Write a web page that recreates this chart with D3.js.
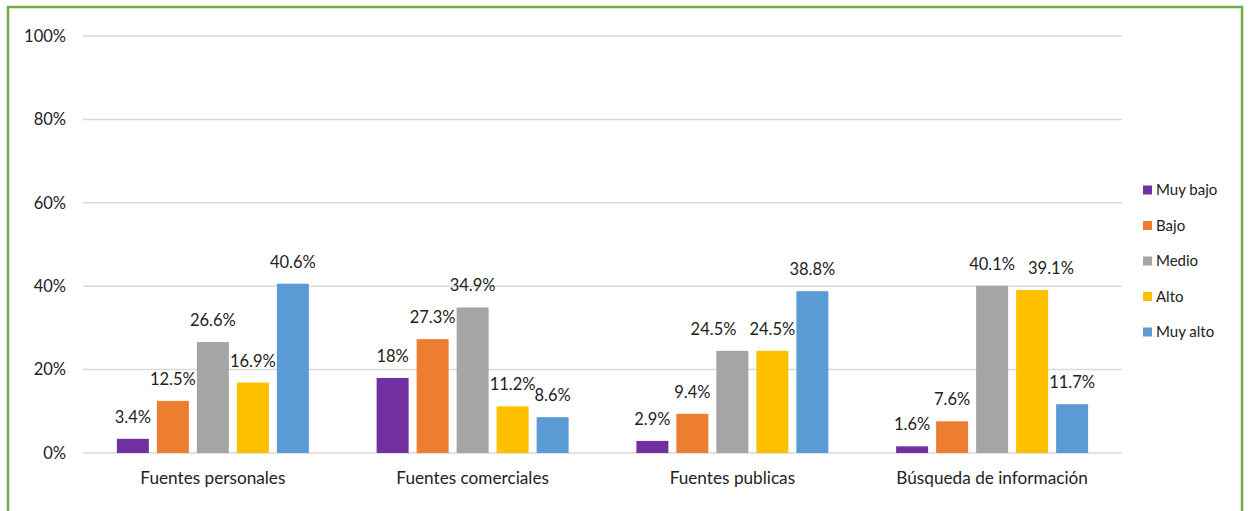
<!DOCTYPE html>
<html>
<head>
<meta charset="utf-8">
<script src="https://cdn.jsdelivr.net/npm/d3@7"></script>
<style>
  html, body { margin: 0; padding: 0; background: #fff; }
  svg { display: block; font-family: Lato, "Open Sans", sans-serif; }
</style>
</head>
<body>
<svg id="chart" width="1248" height="511"></svg>
<script>
const categories = ["Fuentes personales", "Fuentes comerciales", "Fuentes publicas", "Búsqueda de información"];
const seriesNames = ["Muy bajo", "Bajo", "Medio", "Alto", "Muy alto"];
const seriesColors = ["#7030A0", "#ED7D31", "#A5A5A5", "#FFC000", "#5B9BD5"];
const muyBajo = [3.4, 18, 2.9, 1.6];
const bajo = [12.5, 27.3, 9.4, 7.6];
const medio = [26.6, 34.9, 24.5, 40.1];
const alto = [16.9, 11.2, 24.5, 39.1];
const muyAlto = [40.6, 8.6, 38.8, 11.7];
const yTicks = [0, 20, 40, 60, 80, 100];

const series = [muyBajo, bajo, medio, alto, muyAlto];

const svg = d3.select("#chart");

// green frame
svg.append("rect")
  .attr("x", 8).attr("y", 7)
  .attr("width", 1234).attr("height", 520)
  .attr("fill", "none")
  .attr("stroke", "#70AD47")
  .attr("stroke-width", 2.5);

const plot = { left: 83, right: 1122, top: 36, bottom: 453 };
const groupWidth = 192;

const y = d3.scaleLinear().domain([0, 100]).range([plot.bottom, plot.top]);
const x0 = d3.scaleBand().domain(categories).range([plot.left, plot.right]);
const x1 = d3.scaleBand().domain(seriesNames)
  .range([0, groupWidth]).paddingInner(0.2);

// gridlines + tick labels
const grid = svg.append("g");
yTicks.forEach(t => {
  grid.append("line")
    .attr("x1", plot.left).attr("x2", plot.right)
    .attr("y1", y(t)).attr("y2", y(t))
    .attr("stroke", "#D9D9D9")
    .attr("stroke-width", 1.5);
  grid.append("text")
    .attr("x", 66).attr("y", y(t))
    .attr("dy", "0.35em")
    .attr("text-anchor", "end")
    .attr("font-size", 16.5)
    .attr("fill", "#222")
    .text(t + "%");
});

// bars
const groupOffset = (x0.bandwidth() - groupWidth) / 2;

categories.forEach((cat, ci) => {
  const g = svg.append("g")
    .attr("transform", `translate(${x0(cat) + groupOffset},0)`);
  const labels = [];
  seriesNames.forEach((name, si) => {
    const v = series[si][ci];
    g.append("rect")
      .attr("x", x1(name))
      .attr("y", y(v))
      .attr("width", x1.bandwidth())
      .attr("height", y(0) - y(v))
      .attr("fill", seriesColors[si]);
    const t = g.append("text")
      .attr("x", x1(name) + x1.bandwidth() / 2)
      .attr("y", y(v) - 16)
      .attr("text-anchor", "middle")
      .attr("font-size", 16.5)
      .attr("fill", "#222")
      .text(v + "%");
    labels.push({ t, v, cx: x1(name) + x1.bandwidth() / 2, w: t.node().getComputedTextLength(), top: y(v) - 16 });
  });

  // nudge neighbouring labels that collide: the shorter bar's label moves away
  for (let i = 0; i < labels.length - 1; i++) {
    const a = labels[i], b = labels[i + 1];
    const xOverlap = (a.cx + a.w / 2 - 2) > (b.cx - b.w / 2);
    const yOverlap = Math.abs(a.top - b.top) < 16;
    if (xOverlap && yOverlap) {
      const need = (a.w + b.w) / 2 + 13 - (b.cx - a.cx);
      if (b.v < a.v) { b.cx += need; b.t.attr("x", b.cx); }
      else { a.cx -= need; a.t.attr("x", a.cx); }
    }
  }

  svg.append("text")
    .attr("x", x0(cat) + x0.bandwidth() / 2)
    .attr("y", 484)
    .attr("text-anchor", "middle")
    .attr("font-size", 17.2)
    .attr("fill", "#222")
    .text(cat);
});

// legend
const legend = svg.append("g").attr("transform", "translate(1143,190)");
seriesNames.forEach((name, i) => {
  const row = legend.append("g").attr("transform", `translate(0,${i * 35.5})`);
  row.append("rect")
    .attr("x", 0).attr("y", -4.5)
    .attr("width", 9).attr("height", 9)
    .attr("fill", seriesColors[i]);
  row.append("text")
    .attr("x", 13).attr("y", 0)
    .attr("dy", "0.35em")
    .attr("font-size", 15)
    .attr("fill", "#222")
    .text(name);
});
</script>
</body>
</html>
